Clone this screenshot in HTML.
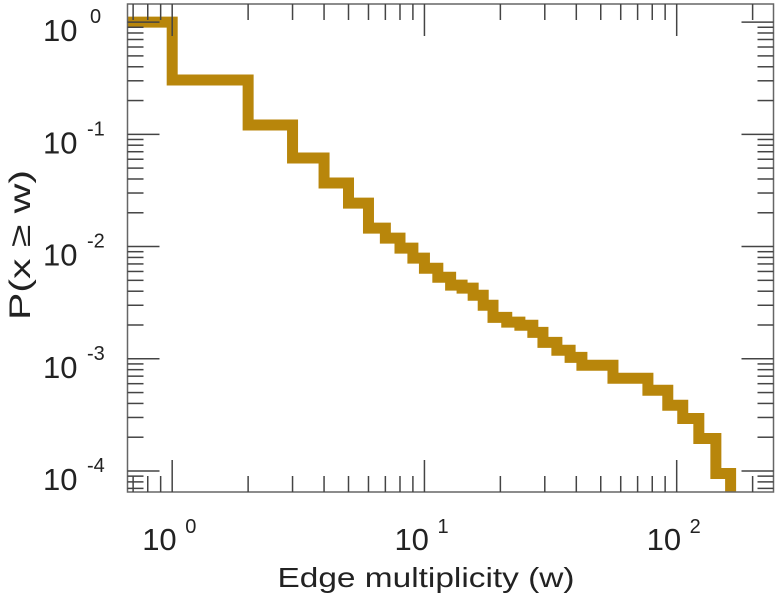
<!DOCTYPE html>
<html><head><meta charset="utf-8"><style>
html,body{margin:0;padding:0;background:#fff;}
svg{display:block;font-family:"Liberation Sans",sans-serif;}
</style></head><body>
<svg id="chart" width="775" height="600" viewBox="0 0 775 600" xmlns="http://www.w3.org/2000/svg"></svg>
<script>
const breakX = [1,2,3,4,5,6,7,8,9,10,11.3,12.7,14.1,15.6,17.1,18.7,21.2,23.9,26.9,29.5,33.5,37.8,42.1,55.9,76.9,92.2,105.7,122.4,143,163.6];
const levelP = [1,0.305,0.121,0.0615,0.0368,0.0244,0.0146,0.0119,0.00968,0.00788,0.00641,0.00533,0.00453,0.00426,0.00368,0.0030,0.00234,0.00212,0.00199,0.00172,0.0014,0.00119,0.00103,0.000875,0.00067,0.000524,0.000385,0.000294,0.000195,0.000095];
const xTickExp = [0,1,2];
const yTickExp = [0,-1,-2,-3,-4];
const xDomain = [0.665, 242];
const yDomain = [0.000065, 1.45];

const L=127.5,R=773.5,T=4,B=492;
const NS="http://www.w3.org/2000/svg";
const svg=document.getElementById('chart');
function xs(v){return L+(Math.log10(v)-Math.log10(xDomain[0]))/(Math.log10(xDomain[1])-Math.log10(xDomain[0]))*(R-L);}
function ys(v){return B-(Math.log10(v)-Math.log10(yDomain[0]))/(Math.log10(yDomain[1])-Math.log10(yDomain[0]))*(B-T);}
function mk(tag,attrs,parent){const e=document.createElementNS(NS,tag);for(const k in attrs)e.setAttribute(k,attrs[k]);(parent||svg).appendChild(e);return e;}

const clip=mk('clipPath',{id:'pc'});mk('rect',{x:L,y:T,width:R-L,height:B-T},clip);

let d='M'+L+','+ys(levelP[0]);
for(let i=0;i<breakX.length;i++){
  const x=xs(breakX[i]);
  d+=' L'+x+','+ys(levelP[i]);
  const ny = i+1<levelP.length? ys(levelP[i+1]) : B+20;
  d+=' L'+x+','+ny;
}
const line=mk('path',{d:d,fill:'none',stroke:'#b8860b','stroke-width':11,'stroke-linejoin':'miter','clip-path':'url(#pc)'});



const frame=mk('rect',{x:L,y:T,width:R-L,height:B-T,fill:'none',stroke:'#666','stroke-width':1.5});



const tickG=mk('g',{stroke:'#444','stroke-width':1.5});


for(let e=-1;e<=2;e++){
  for(let m=1;m<10;m++){
    const v=m*Math.pow(10,e);
    if(v<xDomain[0]||v>xDomain[1])continue;
    const x=xs(v),len=m===1?32:16;
    mk('line',{x1:x,y1:B,x2:x,y2:B-len},tickG);
    mk('line',{x1:x,y1:T,x2:x,y2:T+len},tickG);
  }
}
for(let e=-5;e<=0;e++){
  for(let m=1;m<10;m++){
    const v=m*Math.pow(10,e);
    if(v<yDomain[0]||v>yDomain[1])continue;
    const y=ys(v),len=m===1?32:16;
    mk('line',{x1:L,y1:y,x2:L+len,y2:y},tickG);
    mk('line',{x1:R,y1:y,x2:R-len,y2:y},tickG);
  }
}
xTickExp.forEach(e=>{
  const x=xs(Math.pow(10,e));
  const t=mk('text',{x:x-30,y:550,'font-size':31,fill:'#222'});t.textContent='10';
  
  
  const s=mk('text',{x:x+13,y:533,'font-size':20,fill:'#222'});s.textContent=String(e);
  
  
});
yTickExp.forEach(e=>{
  const y=ys(Math.pow(10,e));
  const t=mk('text',{x:43,y:y+19,'font-size':31,fill:'#222'});t.textContent='10';
  
  
  const s=mk('text',{x:e<0?87:90,y:y+1,'font-size':20,fill:'#222'});s.textContent=String(e);
  
  
});
const xt=mk('text',{x:426,y:587,'font-size':28,fill:'#222','text-anchor':'middle',textLength:297,lengthAdjust:'spacingAndGlyphs'});
xt.textContent='Edge multiplicity (w)';


const yt=mk('text',{x:0,y:0,'font-size':30,fill:'#222','text-anchor':'middle',textLength:150,lengthAdjust:'spacingAndGlyphs',transform:'translate(30,245) rotate(-90)'});
yt.textContent='P(x ≥ w)';


</script>
</body></html>
